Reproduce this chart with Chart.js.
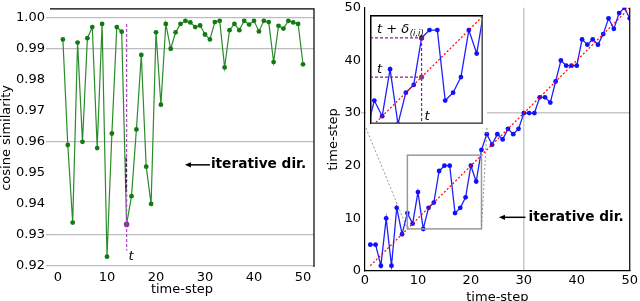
<!DOCTYPE html>
<html><head><meta charset="utf-8">
<script src="https://cdn.jsdelivr.net/npm/chart.js@4/dist/chart.umd.min.js"></script>
<style>
html,body{margin:0;padding:0;background:#fff;width:640px;height:301px;overflow:hidden}
.box{position:absolute}
canvas{display:block}
</style></head><body>
<div class="box" style="left:0;top:0;width:320px;height:301px"><canvas id="c1" width="320" height="301"></canvas></div>
<div class="box" style="left:320px;top:0;width:320px;height:301px"><canvas id="c2" width="320" height="301"></canvas></div>
<div class="box" style="left:366px;top:11px;width:121px;height:117px;background:#fff"><canvas id="c3" width="121" height="117"></canvas></div>
<script>
// ---------- data ----------
const STEPS = [1,2,3,4,5,6,7,8,9,10,11,12,13,14,15,16,17,18,19,20,21,22,23,24,25,26,27,28,29,30,31,32,33,34,35,36,37,38,39,40,41,42,43,44,45,46,47,48,49,50];
const COS_SIM = [0.993,0.959,0.934,0.992,0.960,0.9934,0.997,0.958,0.998,0.923,
                 0.9627,0.997,0.9955,0.9334,0.9425,0.964,0.988,0.952,0.940,0.9953,
                 0.972,0.998,0.990,0.9953,0.998,0.999,0.9985,0.997,0.9975,0.9946,
                 0.993,0.9986,0.999,0.984,0.996,0.998,0.996,0.999,0.9978,0.999,
                 0.9956,0.999,0.9986,0.9857,0.9974,0.9965,0.999,0.9985,0.998,0.985];
const TIME_IDX = [5,5,1,10,1,12,7,11,9,15,
                  8,12,13,19,20,20,11,12,14,20,
                  17,23,26,24,26,25,27,26,27,30,
                  30,30,33,33,32,36,40,39,39,39,
                  44,43,44,43,45,48,46,49,50,48];
const X_TICKS = [0,10,20,30,40,50];
const COS_TICKS = [0.92,0.93,0.94,0.95,0.96,0.97,0.98,0.99,1.00];
const COS_GRID = [1.00,0.99,0.96,0.93,0.92];
const TS_TICKS = [0,10,20,30,40,50];
const TS_GRID = [30];
const DIAG = [1,50];
const ZOOM_BOX = [8,22];
const T_MARK = 14;
const T_LINE = [0.998,0.925];
const T_BLACK = [0.955,0.944];
const LABEL_TEXT = 'iterative dir.';

// ---------- style ----------
const FAM = "'DejaVu Sans', sans-serif";
Chart.defaults.font.family = FAM;
Chart.defaults.font.size = 13;
Chart.defaults.color = '#000';
Chart.defaults.animation = false;

const near = (a,b)=>Math.abs(a-b)<1e-6;

function arrowText(ctx, xHead, xTail, y, xText, text){
  ctx.save();
  ctx.strokeStyle = '#000'; ctx.fillStyle = '#000'; ctx.lineWidth = 1.5;
  ctx.beginPath(); ctx.moveTo(xHead+4, y); ctx.lineTo(xTail, y); ctx.stroke();
  ctx.beginPath(); ctx.moveTo(xHead, y); ctx.lineTo(xHead+6, y-2.6); ctx.lineTo(xHead+6, y+2.6); ctx.closePath(); ctx.fill();
  ctx.font = "bold 13.7px " + FAM; ctx.textBaseline = 'middle'; ctx.textAlign = 'left';
  ctx.fillText(text, xText, y);
  ctx.restore();
}

// ---------- left chart ----------
const leftPlugin = {
  id:'leftDecor',
  afterDraw(chart){
    const {ctx, chartArea:a, scales:{x,y}} = chart;
    ctx.save();
    ctx.strokeStyle = '#000'; ctx.lineWidth = 1.2;
    ctx.beginPath(); ctx.moveTo(a.left, a.top); ctx.lineTo(a.right, a.top); ctx.lineTo(a.right, a.bottom); ctx.stroke();
    const xt = x.getPixelForValue(T_MARK);
    ctx.strokeStyle = '#b04cc8'; ctx.lineWidth = 1.3; ctx.setLineDash([3,2]);
    ctx.beginPath(); ctx.moveTo(xt, y.getPixelForValue(T_LINE[0])); ctx.lineTo(xt, y.getPixelForValue(T_LINE[1])); ctx.stroke();
    ctx.setLineDash([4,1.5]); ctx.strokeStyle = '#000'; ctx.lineWidth = 1;
    ctx.beginPath(); ctx.moveTo(xt-0.5, y.getPixelForValue(T_BLACK[0])); ctx.lineTo(xt-0.5, y.getPixelForValue(T_BLACK[1])); ctx.stroke();
    ctx.setLineDash([]);
    // marker at t
    ctx.fillStyle = '#8a3c9a';
    ctx.beginPath(); ctx.arc(xt, y.getPixelForValue(COS_SIM[T_MARK-1]), 2.8, 0, Math.PI*2); ctx.fill();
    ctx.fillStyle = '#000'; ctx.font = "italic 13px " + FAM; ctx.textBaseline='alphabetic';
    ctx.fillText('t', xt+2, y.getPixelForValue(T_LINE[1]) + 10);
    arrowText(ctx, x.getPixelForValue(25.9), x.getPixelForValue(31.0), y.getPixelForValue(0.9526), x.getPixelForValue(31.2), LABEL_TEXT);
    ctx.restore();
  }
};

new Chart(document.getElementById('c1'), {
  type:'scatter',
  data:{datasets:[{
    data: STEPS.map((s,i)=>({x:s, y:COS_SIM[i]})),
    showLine:true, borderColor:'#2a8c2a', borderWidth:1.2, tension:0,
    pointRadius:2.4, pointBackgroundColor:'#127a12', pointBorderWidth:0
  }]},
  options:{
    responsive:false, devicePixelRatio:1, animation:false,
    layout:{padding:{top:7,right:6,left:0,bottom:0}},
    plugins:{legend:{display:false}, tooltip:{enabled:false}},
    scales:{
      x:{type:'linear', min:-1.63, max:52.24,
         afterBuildTicks:s=>{s.ticks = X_TICKS.map(v=>({value:v}));},
         grid:{display:false, drawTicks:false}, border:{display:false},
         ticks:{padding:3, callback:v=>String(v)},
         title:{display:true, text:'time-step', padding:{top:0,bottom:4}},
         afterFit:s=>{s.height=34;}},
      y:{type:'linear', min:0.91968, max:1.00288,
         afterBuildTicks:s=>{s.ticks = COS_TICKS.map(v=>({value:v}));},
         ticks:{padding:1, callback:v=>Number(v).toFixed(2)},
         grid:{color:c=>(c.tick && COS_GRID.some(g=>near(g,c.tick.value)))?'#bdbdbd':'rgba(0,0,0,0)', lineWidth:1.3, tickLength:4},
         border:{display:false},
         title:{display:true, text:'cosine similarity', padding:{top:-1,bottom:0}},
         afterFit:s=>{s.width=50;}}
    }
  },
  plugins:[leftPlugin]
});

// ---------- right chart ----------
const INSET_PX = {left:46, right:167, bottom:128}; // inset frame corners in right-canvas pixels
const rightPlugin = {
  id:'rightDecor',
  afterDraw(chart){
    const {ctx, chartArea:a, scales:{x,y}} = chart;
    ctx.save();
    ctx.strokeStyle = '#000'; ctx.lineWidth = 1.2;
    ctx.beginPath(); ctx.moveTo(a.right, a.top); ctx.lineTo(a.right, a.bottom); ctx.stroke();
    const bx0 = x.getPixelForValue(ZOOM_BOX[0]), bx1 = x.getPixelForValue(ZOOM_BOX[1]);
    const by0 = y.getPixelForValue(ZOOM_BOX[0]), by1 = y.getPixelForValue(ZOOM_BOX[1]);
    ctx.strokeStyle = '#9a9a9a'; ctx.lineWidth = 1.5;
    ctx.strokeRect(bx0, by1, bx1-bx0, by0-by1);
    ctx.strokeStyle = '#8a8a8a'; ctx.lineWidth = 0.9; ctx.setLineDash([2,2]);
    ctx.beginPath(); ctx.moveTo(INSET_PX.left, INSET_PX.bottom); ctx.lineTo(bx0, by0); ctx.stroke();
    ctx.beginPath(); ctx.moveTo(INSET_PX.right, INSET_PX.bottom); ctx.lineTo(bx1, by0); ctx.stroke();
    ctx.setLineDash([]);
    arrowText(ctx, x.getPixelForValue(25.3), x.getPixelForValue(30.3), y.getPixelForValue(10.2), x.getPixelForValue(30.9), LABEL_TEXT);
    ctx.restore();
  }
};

const tsGrid = c=>(c.tick && TS_GRID.some(g=>near(g,c.tick.value)))?'#c8c8c8':'rgba(0,0,0,0)';
new Chart(document.getElementById('c2'), {
  type:'scatter',
  data:{datasets:[
    {data: STEPS.map((s,i)=>({x:s, y:TIME_IDX[i]})), showLine:true, borderColor:'#2020ff', borderWidth:1.3,
     pointRadius:2.4, pointBackgroundColor:'#1010ff', pointBorderWidth:0, order:1},
    {data: DIAG.map(v=>({x:v, y:v})), showLine:true, borderColor:'#ff0000', borderWidth:1.2, borderDash:[2,2],
     pointRadius:0, order:0}
  ]},
  options:{
    responsive:false, devicePixelRatio:1, animation:false,
    layout:{padding:{top:7,right:8,left:0,bottom:0}},
    plugins:{legend:{display:false}, tooltip:{enabled:false}},
    scales:{
      x:{type:'linear', min:0, max:50,
         afterBuildTicks:s=>{s.ticks = TS_TICKS.map(v=>({value:v}));},
         grid:{color:tsGrid, lineWidth:1.5, drawTicks:false},
         border:{display:true, color:'#000', width:1.2},
         ticks:{padding:2, callback:v=>String(v)},
         title:{display:true, text:'time-step', padding:{top:0,bottom:-4}},
         afterFit:s=>{s.height=30;}},
      y:{type:'linear', min:0, max:50,
         afterBuildTicks:s=>{s.ticks = TS_TICKS.map(v=>({value:v}));},
         grid:{color:tsGrid, lineWidth:1.5, tickLength:4},
         border:{display:true, color:'#000', width:1.2},
         ticks:{padding:0, callback:v=>String(v)},
         title:{display:true, text:'time-step', padding:{top:6,bottom:0}},
         afterFit:s=>{s.width=45;}}
    }
  },
  plugins:[rightPlugin]
});

// ---------- inset ----------
const insetPlugin = {
  id:'insetDecor',
  afterDraw(chart){
    const {ctx, chartArea:a, scales:{x,y}} = chart;
    const xt = x.getPixelForValue(T_MARK);
    const yv = y.getPixelForValue(TIME_IDX[T_MARK-1]);
    const yd = y.getPixelForValue(T_MARK);
    ctx.save();
    ctx.strokeStyle = '#86208a'; ctx.lineWidth = 1.2; ctx.setLineDash([3,2]);
    ctx.beginPath(); ctx.moveTo(a.left, yv); ctx.lineTo(xt, yv); ctx.stroke();
    ctx.beginPath(); ctx.moveTo(a.left, yd); ctx.lineTo(xt, yd); ctx.stroke();
    ctx.beginPath(); ctx.moveTo(xt, yv); ctx.lineTo(xt, a.bottom); ctx.stroke();
    ctx.setLineDash([]);
    ctx.fillStyle = '#6a1a8a';
    ctx.beginPath(); ctx.arc(xt, yv, 2.6, 0, Math.PI*2); ctx.fill();
    ctx.fillStyle = '#8a3a7a';
    ctx.beginPath(); ctx.arc(xt, yd, 2.6, 0, Math.PI*2); ctx.fill();
    ctx.fillStyle = '#000'; ctx.textBaseline = 'alphabetic'; ctx.textAlign = 'left';
    ctx.font = "italic 13px " + FAM;
    const lbl = 't + δ';
    ctx.fillText(lbl, a.left+7, yv-5);
    const w = ctx.measureText(lbl).width;
    ctx.font = "italic 8.5px " + FAM;
    ctx.fillText('(i,i)', a.left+7+w+0.5, yv-2);
    ctx.font = "italic 13px " + FAM;
    ctx.fillText('t', a.left+7, yd-4);
    ctx.fillText('t', xt+3, a.bottom-4);
    // frame
    ctx.strokeStyle = '#555'; ctx.lineWidth = 1.6;
    ctx.strokeRect(a.left+0.8, a.top+0.8, a.right-a.left-1.6, a.bottom-a.top-1.6);
    ctx.strokeStyle = '#000'; ctx.lineWidth = 1.2;
    ctx.beginPath(); ctx.moveTo(a.left, a.top+0.6); ctx.lineTo(a.right, a.top+0.6); ctx.stroke();
    ctx.beginPath(); ctx.moveTo(a.left+0.6, a.top); ctx.lineTo(a.left+0.6, a.bottom); ctx.stroke();
    ctx.restore();
  }
};
new Chart(document.getElementById('c3'), {
  type:'scatter',
  data:{datasets:[
    {data: STEPS.map((s,i)=>({x:s, y:TIME_IDX[i]})), showLine:true, borderColor:'#2020ff', borderWidth:1.3,
     pointRadius:2.4, pointBackgroundColor:'#1010ff', pointBorderWidth:0, order:1},
    {data: DIAG.map(v=>({x:v, y:v})), showLine:true, borderColor:'#ff0000', borderWidth:1.2, borderDash:[2,2],
     pointRadius:0, order:0}
  ]},
  options:{
    responsive:false, devicePixelRatio:1, animation:false,
    layout:{padding:0},
    plugins:{legend:{display:false}, tooltip:{enabled:false}},
    scales:{
      x:{type:'linear', min:7.45, max:21.8, display:false},
      y:{type:'linear', min:8, max:21.93, display:false}
    }
  },
  plugins:[insetPlugin]
});
</script>
</body></html>
